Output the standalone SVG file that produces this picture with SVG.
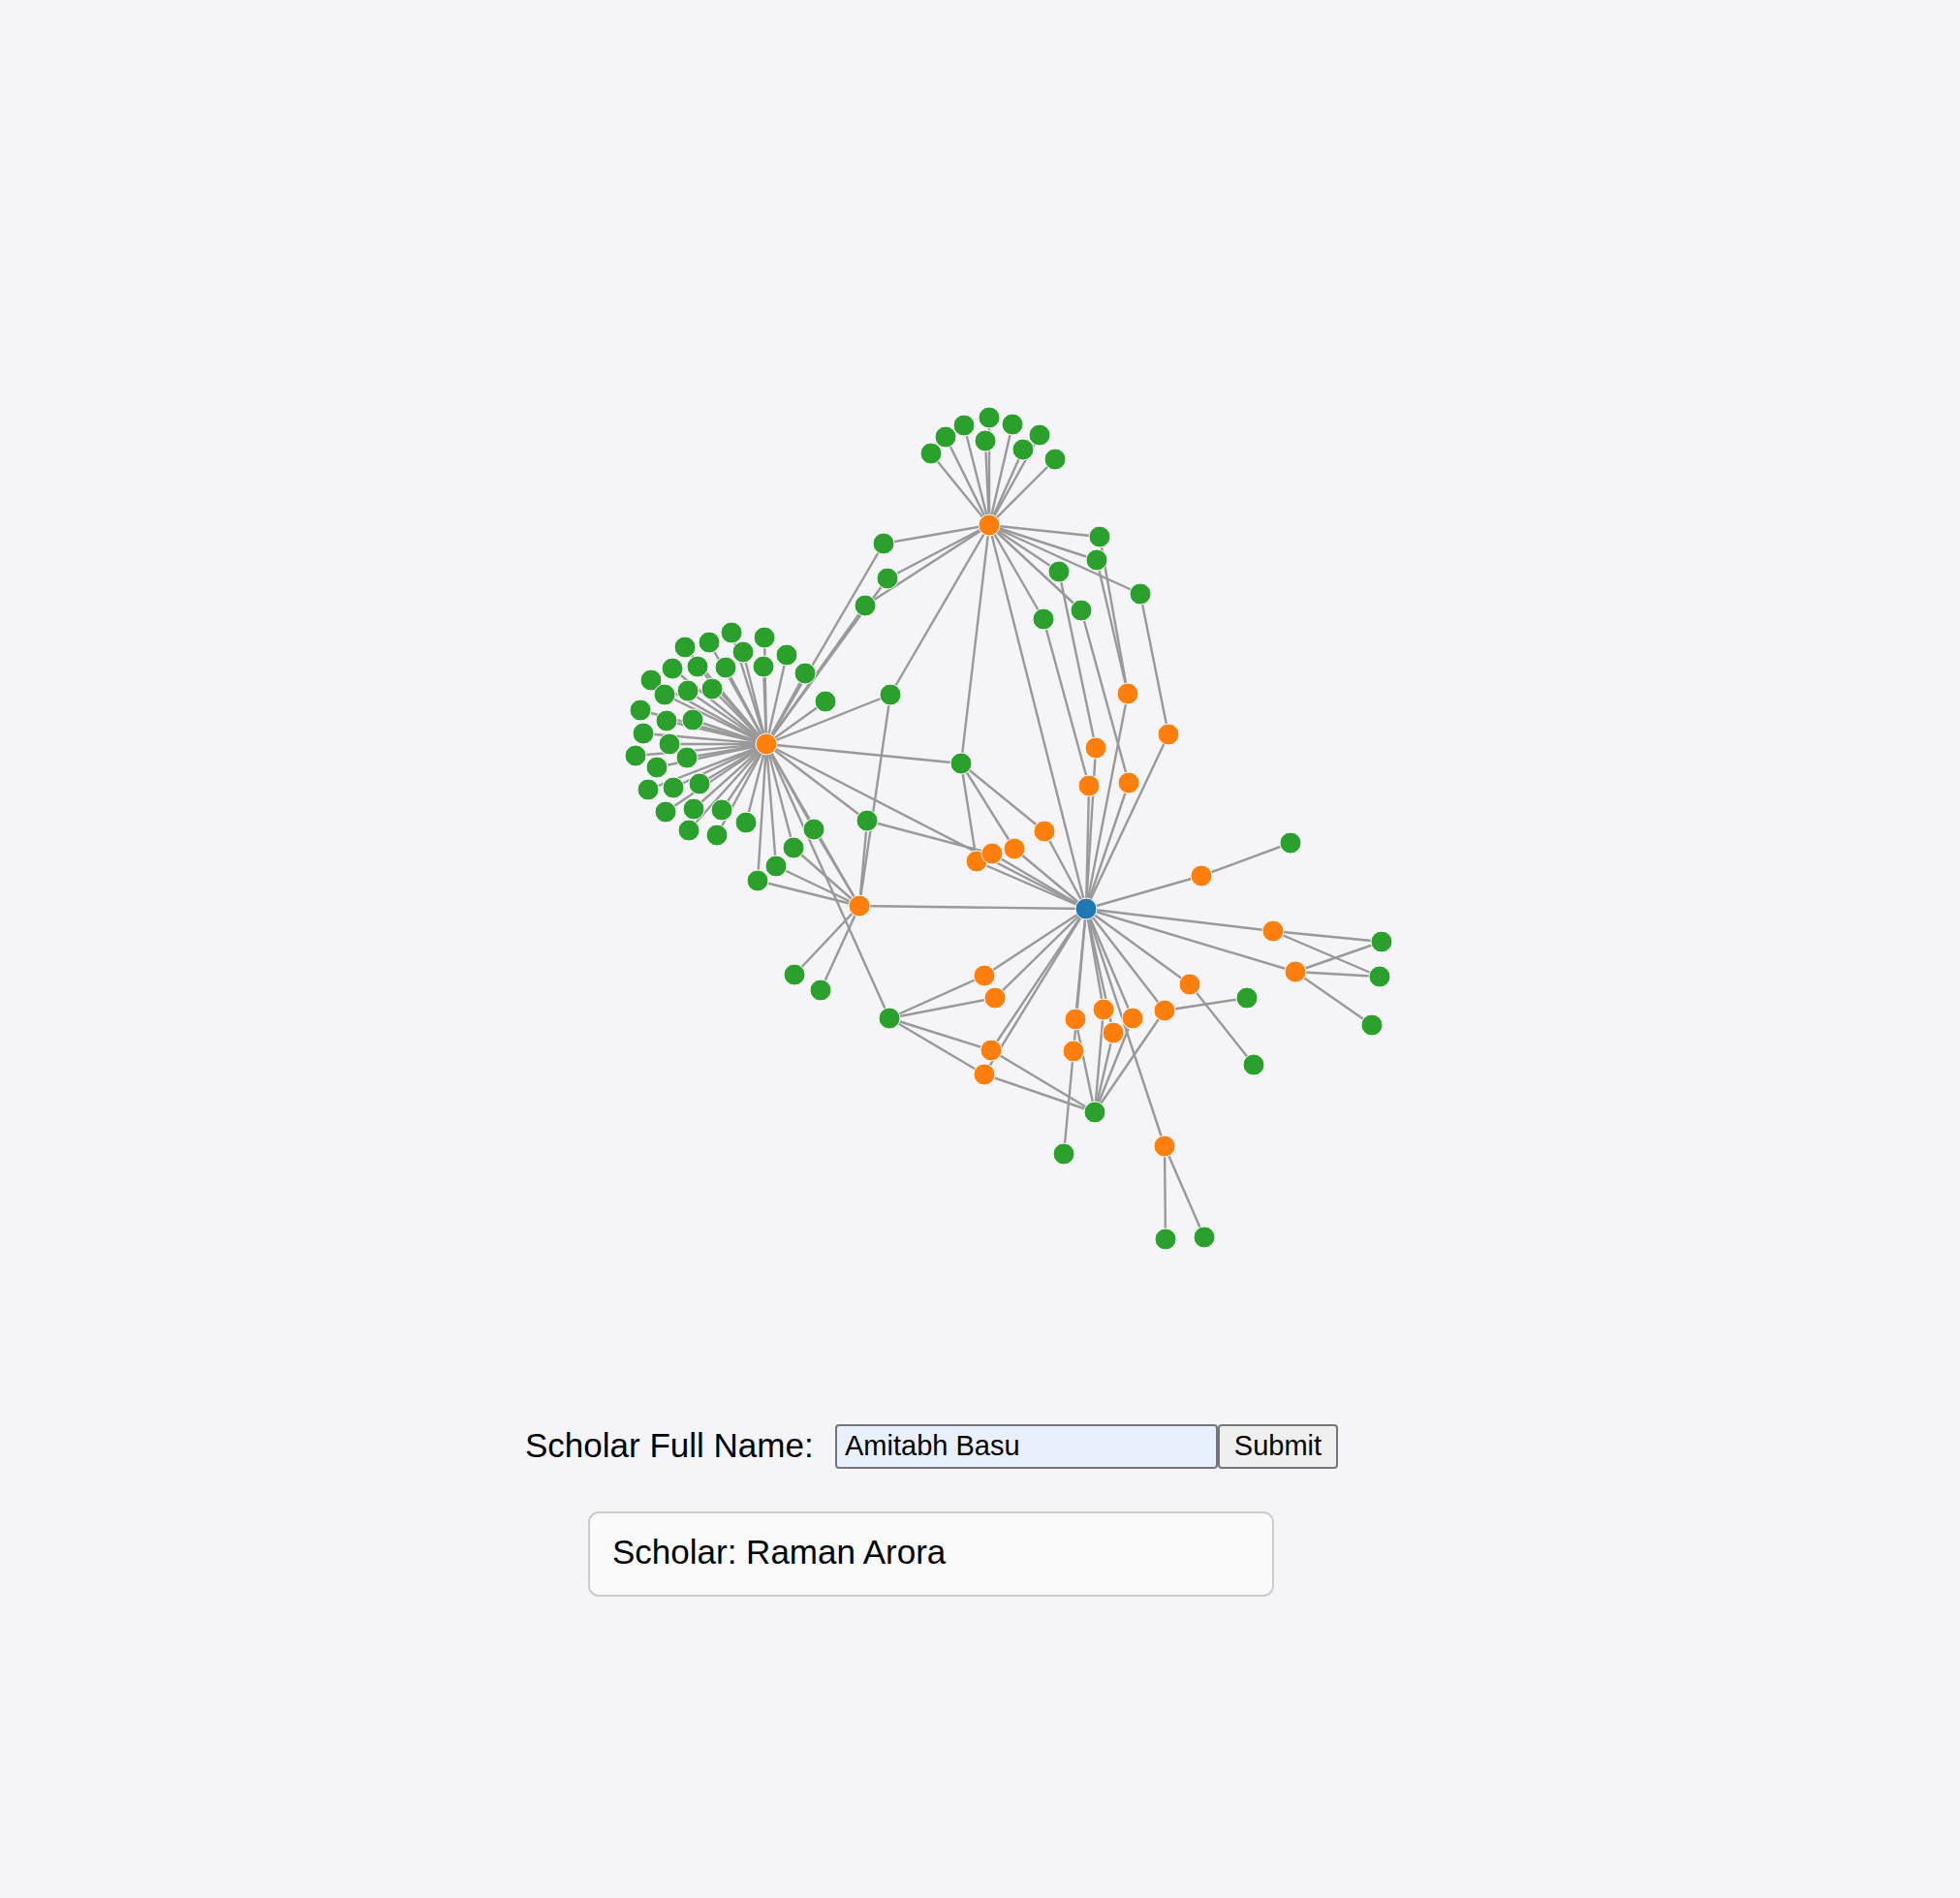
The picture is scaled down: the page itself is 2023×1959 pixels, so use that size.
<svg xmlns="http://www.w3.org/2000/svg" width="2023" height="1959" viewBox="0 0 2023 1959">
<style>
.bg{fill:#f4f4f9}
#links line{stroke:#999;stroke-width:2.4}
circle{stroke:#fff;stroke-width:1}
.g{fill:#2ca02c}
.o{fill:#ff7f0e}
.b{fill:#1f77b4}
.t{font-family:"Liberation Sans",Arial,sans-serif;fill:#000}
</style>
<rect class="bg" x="0" y="0" width="2023" height="1959"/>
<g id="links">
<line x1="791" y1="768" x2="755" y2="653"/><line x1="791" y1="768" x2="789" y2="658"/><line x1="791" y1="768" x2="732" y2="663"/><line x1="791" y1="768" x2="707" y2="668"/><line x1="791" y1="768" x2="767" y2="673"/><line x1="791" y1="768" x2="812" y2="676"/><line x1="791" y1="768" x2="788" y2="688"/><line x1="791" y1="768" x2="749" y2="689"/><line x1="791" y1="768" x2="720" y2="688"/><line x1="791" y1="768" x2="694" y2="690"/><line x1="791" y1="768" x2="831" y2="695"/><line x1="791" y1="768" x2="672" y2="702"/><line x1="791" y1="768" x2="710" y2="713"/><line x1="791" y1="768" x2="735" y2="711"/><line x1="791" y1="768" x2="686" y2="717"/><line x1="791" y1="768" x2="852" y2="724"/><line x1="791" y1="768" x2="661" y2="733"/><line x1="791" y1="768" x2="688" y2="744"/><line x1="791" y1="768" x2="715" y2="743"/><line x1="791" y1="768" x2="664" y2="757"/><line x1="791" y1="768" x2="691" y2="768"/><line x1="791" y1="768" x2="656" y2="780"/><line x1="791" y1="768" x2="709" y2="782"/><line x1="791" y1="768" x2="678" y2="792"/><line x1="791" y1="768" x2="669" y2="815"/><line x1="791" y1="768" x2="695" y2="813"/><line x1="791" y1="768" x2="722" y2="809"/><line x1="791" y1="768" x2="687" y2="838"/><line x1="791" y1="768" x2="716" y2="835"/><line x1="791" y1="768" x2="745" y2="836"/><line x1="791" y1="768" x2="711" y2="857"/><line x1="791" y1="768" x2="740" y2="862"/><line x1="791" y1="768" x2="770" y2="849"/><line x1="791" y1="768" x2="840" y2="856"/><line x1="791" y1="768" x2="819" y2="875"/><line x1="791" y1="768" x2="801" y2="894"/><line x1="791" y1="768" x2="782" y2="909"/>
<line x1="791" y1="768" x2="912" y2="561"/><line x1="791" y1="768" x2="916" y2="597"/><line x1="791" y1="768" x2="893" y2="625"/><line x1="791" y1="768" x2="919" y2="717"/><line x1="791" y1="768" x2="992" y2="788"/><line x1="791" y1="768" x2="895" y2="847"/><line x1="791" y1="768" x2="918" y2="1051"/><line x1="791" y1="768" x2="887" y2="935"/><line x1="791" y1="768" x2="1121" y2="938"/>
<line x1="1021" y1="542" x2="961" y2="468"/><line x1="1021" y1="542" x2="976" y2="451"/><line x1="1021" y1="542" x2="995" y2="439"/><line x1="1021" y1="542" x2="1021" y2="431"/><line x1="1021" y1="542" x2="1017" y2="455"/><line x1="1021" y1="542" x2="1045" y2="438"/><line x1="1021" y1="542" x2="1073" y2="449"/><line x1="1021" y1="542" x2="1056" y2="464"/><line x1="1021" y1="542" x2="1089" y2="474"/>
<line x1="1021" y1="542" x2="912" y2="561"/><line x1="1021" y1="542" x2="916" y2="597"/><line x1="1021" y1="542" x2="893" y2="625"/><line x1="1021" y1="542" x2="919" y2="717"/><line x1="1021" y1="542" x2="992" y2="788"/><line x1="1021" y1="542" x2="1135" y2="554"/><line x1="1021" y1="542" x2="1132" y2="578"/><line x1="1021" y1="542" x2="1093" y2="590"/><line x1="1021" y1="542" x2="1177" y2="613"/><line x1="1021" y1="542" x2="1116" y2="630"/><line x1="1021" y1="542" x2="1077" y2="639"/><line x1="1021" y1="542" x2="1121" y2="938"/>
<line x1="887" y1="935" x2="840" y2="856"/><line x1="887" y1="935" x2="819" y2="875"/><line x1="887" y1="935" x2="801" y2="894"/><line x1="887" y1="935" x2="782" y2="909"/><line x1="887" y1="935" x2="919" y2="717"/><line x1="887" y1="935" x2="895" y2="847"/><line x1="887" y1="935" x2="820" y2="1006"/><line x1="887" y1="935" x2="847" y2="1022"/><line x1="887" y1="935" x2="1121" y2="938"/>
<line x1="992" y1="788" x2="1008" y2="889"/><line x1="992" y1="788" x2="1047" y2="876"/><line x1="992" y1="788" x2="1078" y2="858"/><line x1="895" y1="847" x2="1024" y2="881"/>
<line x1="1135" y1="554" x2="1164" y2="716"/><line x1="1132" y1="578" x2="1164" y2="716"/><line x1="1093" y1="590" x2="1131" y2="772"/><line x1="1177" y1="613" x2="1206" y2="758"/><line x1="1116" y1="630" x2="1165" y2="808"/><line x1="1077" y1="639" x2="1124" y2="811"/>
<line x1="1121" y1="938" x2="1164" y2="716"/><line x1="1121" y1="938" x2="1206" y2="758"/><line x1="1121" y1="938" x2="1131" y2="772"/><line x1="1121" y1="938" x2="1124" y2="811"/><line x1="1121" y1="938" x2="1165" y2="808"/><line x1="1121" y1="938" x2="1078" y2="858"/><line x1="1121" y1="938" x2="1047" y2="876"/><line x1="1121" y1="938" x2="1024" y2="881"/><line x1="1121" y1="938" x2="1008" y2="889"/><line x1="1121" y1="938" x2="1240" y2="904"/><line x1="1121" y1="938" x2="1314" y2="961"/><line x1="1121" y1="938" x2="1337" y2="1003"/><line x1="1121" y1="938" x2="1228" y2="1016"/><line x1="1121" y1="938" x2="1202" y2="1043"/><line x1="1121" y1="938" x2="1169" y2="1051"/><line x1="1121" y1="938" x2="1016" y2="1007"/><line x1="1121" y1="938" x2="1027" y2="1030"/><line x1="1121" y1="938" x2="1023" y2="1084"/><line x1="1121" y1="938" x2="1016" y2="1109"/><line x1="1121" y1="938" x2="1110" y2="1052"/><line x1="1121" y1="938" x2="1139" y2="1042"/><line x1="1121" y1="938" x2="1149" y2="1066"/><line x1="1121" y1="938" x2="1108" y2="1085"/><line x1="1121" y1="938" x2="1202" y2="1183"/>
<line x1="1240" y1="904" x2="1332" y2="870"/><line x1="1314" y1="961" x2="1426" y2="972"/><line x1="1314" y1="961" x2="1424" y2="1008"/><line x1="1337" y1="1003" x2="1426" y2="972"/><line x1="1337" y1="1003" x2="1424" y2="1008"/><line x1="1337" y1="1003" x2="1416" y2="1058"/><line x1="1202" y1="1043" x2="1287" y2="1030"/><line x1="1228" y1="1016" x2="1294" y2="1099"/><line x1="1202" y1="1183" x2="1203" y2="1279"/><line x1="1202" y1="1183" x2="1243" y2="1277"/>
<line x1="1202" y1="1043" x2="1130" y2="1148"/><line x1="1169" y1="1051" x2="1130" y2="1148"/><line x1="1110" y1="1052" x2="1130" y2="1148"/><line x1="1139" y1="1042" x2="1130" y2="1148"/><line x1="1149" y1="1066" x2="1130" y2="1148"/><line x1="1023" y1="1084" x2="1130" y2="1148"/><line x1="1016" y1="1109" x2="1130" y2="1148"/><line x1="1108" y1="1085" x2="1098" y2="1191"/>
<line x1="918" y1="1051" x2="1016" y2="1007"/><line x1="918" y1="1051" x2="1027" y2="1030"/><line x1="918" y1="1051" x2="1023" y2="1084"/><line x1="918" y1="1051" x2="1016" y2="1109"/>
</g>
<g id="nodes">
<g id="a1"><circle class="g" cx="755" cy="653" r="11"/></g>
<g id="a2"><circle class="g" cx="789" cy="658" r="11"/></g>
<g id="a3"><circle class="g" cx="732" cy="663" r="11"/></g>
<g id="a4"><circle class="g" cx="707" cy="668" r="11"/></g>
<g id="a5"><circle class="g" cx="767" cy="673" r="11"/></g>
<g id="a6"><circle class="g" cx="812" cy="676" r="11"/></g>
<g id="a7"><circle class="g" cx="788" cy="688" r="11"/></g>
<g id="a8"><circle class="g" cx="749" cy="689" r="11"/></g>
<g id="a9"><circle class="g" cx="720" cy="688" r="11"/></g>
<g id="a10"><circle class="g" cx="694" cy="690" r="11"/></g>
<g id="a11"><circle class="g" cx="831" cy="695" r="11"/></g>
<g id="a12"><circle class="g" cx="672" cy="702" r="11"/></g>
<g id="a13"><circle class="g" cx="710" cy="713" r="11"/></g>
<g id="a14"><circle class="g" cx="735" cy="711" r="11"/></g>
<g id="a15"><circle class="g" cx="686" cy="717" r="11"/></g>
<g id="a16"><circle class="g" cx="852" cy="724" r="11"/></g>
<g id="a17"><circle class="g" cx="661" cy="733" r="11"/></g>
<g id="a18"><circle class="g" cx="688" cy="744" r="11"/></g>
<g id="a19"><circle class="g" cx="715" cy="743" r="11"/></g>
<g id="a20"><circle class="g" cx="664" cy="757" r="11"/></g>
<g id="a21"><circle class="g" cx="691" cy="768" r="11"/></g>
<g id="a22"><circle class="g" cx="656" cy="780" r="11"/></g>
<g id="a23"><circle class="g" cx="709" cy="782" r="11"/></g>
<g id="a24"><circle class="g" cx="678" cy="792" r="11"/></g>
<g id="a25"><circle class="g" cx="669" cy="815" r="11"/></g>
<g id="a26"><circle class="g" cx="695" cy="813" r="11"/></g>
<g id="a27"><circle class="g" cx="722" cy="809" r="11"/></g>
<g id="a28"><circle class="g" cx="687" cy="838" r="11"/></g>
<g id="a29"><circle class="g" cx="716" cy="835" r="11"/></g>
<g id="a30"><circle class="g" cx="745" cy="836" r="11"/></g>
<g id="a31"><circle class="g" cx="711" cy="857" r="11"/></g>
<g id="a32"><circle class="g" cx="740" cy="862" r="11"/></g>
<g id="a33"><circle class="g" cx="770" cy="849" r="11"/></g>
<g id="a34"><circle class="g" cx="840" cy="856" r="11"/></g>
<g id="a35"><circle class="g" cx="819" cy="875" r="11"/></g>
<g id="a36"><circle class="g" cx="801" cy="894" r="11"/></g>
<g id="a37"><circle class="g" cx="782" cy="909" r="11"/></g>
<g id="t1"><circle class="g" cx="961" cy="468" r="11"/></g>
<g id="t2"><circle class="g" cx="976" cy="451" r="11"/></g>
<g id="t3"><circle class="g" cx="995" cy="439" r="11"/></g>
<g id="t4"><circle class="g" cx="1021" cy="431" r="11"/></g>
<g id="t5"><circle class="g" cx="1017" cy="455" r="11"/></g>
<g id="t6"><circle class="g" cx="1045" cy="438" r="11"/></g>
<g id="t7"><circle class="g" cx="1073" cy="449" r="11"/></g>
<g id="t8"><circle class="g" cx="1056" cy="464" r="11"/></g>
<g id="t9"><circle class="g" cx="1089" cy="474" r="11"/></g>
<g id="g1"><circle class="g" cx="912" cy="561" r="11"/></g>
<g id="g2"><circle class="g" cx="916" cy="597" r="11"/></g>
<g id="g3"><circle class="g" cx="893" cy="625" r="11"/></g>
<g id="g4"><circle class="g" cx="919" cy="717" r="11"/></g>
<g id="g5"><circle class="g" cx="992" cy="788" r="11"/></g>
<g id="g6"><circle class="g" cx="895" cy="847" r="11"/></g>
<g id="g7"><circle class="g" cx="1135" cy="554" r="11"/></g>
<g id="g8"><circle class="g" cx="1132" cy="578" r="11"/></g>
<g id="g9"><circle class="g" cx="1093" cy="590" r="11"/></g>
<g id="g10"><circle class="g" cx="1177" cy="613" r="11"/></g>
<g id="g11"><circle class="g" cx="1116" cy="630" r="11"/></g>
<g id="g12"><circle class="g" cx="1077" cy="639" r="11"/></g>
<g id="g13"><circle class="g" cx="820" cy="1006" r="11"/></g>
<g id="g14"><circle class="g" cx="847" cy="1022" r="11"/></g>
<g id="g15"><circle class="g" cx="918" cy="1051" r="11"/></g>
<g id="g16"><circle class="g" cx="1130" cy="1148" r="11"/></g>
<g id="g17"><circle class="g" cx="1098" cy="1191" r="11"/></g>
<g id="g18"><circle class="g" cx="1332" cy="870" r="11"/></g>
<g id="g19"><circle class="g" cx="1426" cy="972" r="11"/></g>
<g id="g20"><circle class="g" cx="1424" cy="1008" r="11"/></g>
<g id="g21"><circle class="g" cx="1416" cy="1058" r="11"/></g>
<g id="g22"><circle class="g" cx="1287" cy="1030" r="11"/></g>
<g id="g23"><circle class="g" cx="1294" cy="1099" r="11"/></g>
<g id="g24"><circle class="g" cx="1203" cy="1279" r="11"/></g>
<g id="g25"><circle class="g" cx="1243" cy="1277" r="11"/></g>
<g id="h1"><circle class="o" cx="791" cy="768" r="11"/></g>
<g id="h2"><circle class="o" cx="1021" cy="542" r="11"/></g>
<g id="h3"><circle class="o" cx="887" cy="935" r="11"/></g>
<g id="o1"><circle class="o" cx="1164" cy="716" r="11"/></g>
<g id="o2"><circle class="o" cx="1206" cy="758" r="11"/></g>
<g id="o3"><circle class="o" cx="1131" cy="772" r="11"/></g>
<g id="o4"><circle class="o" cx="1124" cy="811" r="11"/></g>
<g id="o5"><circle class="o" cx="1165" cy="808" r="11"/></g>
<g id="o6"><circle class="o" cx="1078" cy="858" r="11"/></g>
<g id="o7"><circle class="o" cx="1047" cy="876" r="11"/></g>
<g id="o9"><circle class="o" cx="1008" cy="889" r="11"/></g>
<g id="o8"><circle class="o" cx="1024" cy="881" r="11"/></g>
<g id="o10"><circle class="o" cx="1240" cy="904" r="11"/></g>
<g id="o11"><circle class="o" cx="1314" cy="961" r="11"/></g>
<g id="o12"><circle class="o" cx="1337" cy="1003" r="11"/></g>
<g id="o13"><circle class="o" cx="1228" cy="1016" r="11"/></g>
<g id="o14"><circle class="o" cx="1202" cy="1043" r="11"/></g>
<g id="o15"><circle class="o" cx="1169" cy="1051" r="11"/></g>
<g id="o16"><circle class="o" cx="1016" cy="1007" r="11"/></g>
<g id="o17"><circle class="o" cx="1027" cy="1030" r="11"/></g>
<g id="o18"><circle class="o" cx="1023" cy="1084" r="11"/></g>
<g id="o19"><circle class="o" cx="1016" cy="1109" r="11"/></g>
<g id="o20"><circle class="o" cx="1110" cy="1052" r="11"/></g>
<g id="o21"><circle class="o" cx="1139" cy="1042" r="11"/></g>
<g id="o22"><circle class="o" cx="1149" cy="1066" r="11"/></g>
<g id="o23"><circle class="o" cx="1108" cy="1085" r="11"/></g>
<g id="o24"><circle class="o" cx="1202" cy="1183" r="11"/></g>
<g id="blue"><circle class="b" cx="1121" cy="938" r="11"/></g>
</g>
<g id="form">
<text class="t" x="542" y="1504" font-size="35">Scholar Full Name:</text>
<rect x="863" y="1471" width="393" height="44" rx="3" fill="#e8f0fe" stroke="#767676" stroke-width="2"/>
<text class="t" x="872" y="1502" font-size="29">Amitabh Basu</text>
<rect x="1258" y="1471" width="122" height="44" rx="3" fill="#efefef" stroke="#767676" stroke-width="2"/>
<text class="t" x="1319" y="1502" font-size="29" text-anchor="middle">Submit</text>
</g>
<g id="result">
<rect x="608" y="1561" width="706" height="86" rx="10" fill="#fafafa" stroke="#cccccc" stroke-width="2"/>
<text class="t" x="632" y="1614" font-size="35">Scholar: Raman Arora</text>
</g>
</svg>
